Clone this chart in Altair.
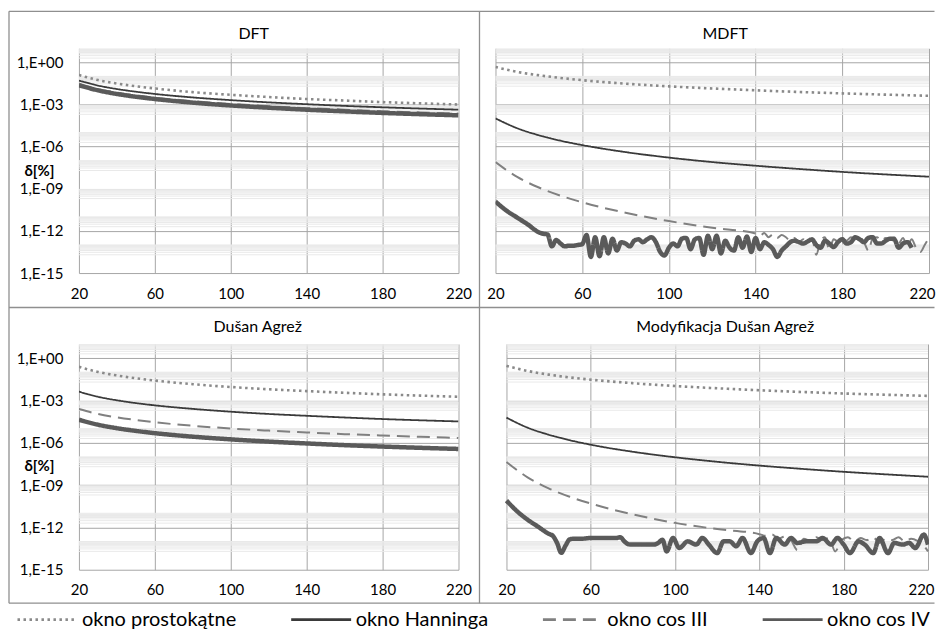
import altair as alt
import pandas as pd

FONT = "Lato"
SERIES = ["okno prostokątne", "okno Hanninga", "okno cos III", "okno cos IV"]
COLORS = ["#8a8a8a", "#3a3a3a", "#808080", "#5a5a5a"]
DASHES = [[2.5, 3.5], [1, 0], [13, 7], [1, 0]]
WIDTHS = {"okno prostokątne": 2.6, "okno Hanninga": 1.8, "okno cos III": 2.0, "okno cos IV": 4.5}

X_TICKS = [20, 60, 100, 140, 180, 220]
Y_TICKS = [1e-15, 1e-12, 1e-9, 1e-6, 1e-3, 1e0]

N_SMOOTH = [20, 30, 40, 50, 60, 80, 100, 120, 140, 160, 180, 200, 220]

# values are log10(delta [%])
DFT_RECT = [-0.90, -1.26, -1.51, -1.70, -1.86, -2.12, -2.31, -2.47, -2.61, -2.72, -2.83, -2.92, -3.00]
DFT_HANN = [-1.30, -1.65, -1.90, -2.09, -2.25, -2.50, -2.69, -2.85, -2.98, -3.10, -3.20, -3.29, -3.37]
DFT_COS3 = [-1.54, -1.90, -2.15, -2.35, -2.51, -2.76, -2.96, -3.12, -3.26, -3.37, -3.48, -3.57, -3.65]
DFT_COS4 = [-1.63, -1.99, -2.25, -2.45, -2.61, -2.87, -3.07, -3.23, -3.37, -3.49, -3.60, -3.69, -3.77]

MDFT_RECT = [-0.33, -0.68, -0.92, -1.11, -1.27, -1.52, -1.71, -1.86, -1.99, -2.11, -2.21, -2.30, -2.38]
MDFT_HANN = [-3.99, -4.69, -5.19, -5.58, -5.89, -6.39, -6.78, -7.10, -7.36, -7.59, -7.80, -7.98, -8.14]
MDFT_COS3 = [(20, -7.10), (30, -8.16), (40, -8.91), (50, -9.49), (60, -9.96), (80, -10.71),
             (100, -11.30), (120, -11.78), (140, -12.18), (142, -12.35), (144, -12.15), (146, -12.45),
             (148, -12.25), (150, -12.50), (152, -12.30), (154, -12.45), (156, -12.70), (158, -12.50),
             (160, -12.80), (162, -12.60), (164, -12.90), (166, -12.55), (168, -13.70), (170, -12.70),
             (172, -12.45), (174, -13.30), (176, -12.60), (178, -12.75), (180, -12.50), (182, -12.70),
             (184, -12.45), (186, -12.60), (188, -12.45), (190, -12.80), (192, -13.40), (194, -12.55),
             (196, -12.45), (198, -12.70), (200, -12.50), (202, -12.60), (204, -12.45), (206, -12.90),
             (208, -12.50), (210, -13.10), (212, -12.60), (214, -13.20), (216, -13.50), (218, -13.00),
             (220, -12.50)]
MDFT_COS4 = [(20, -9.91), (25, -10.55), (30, -11.05), (35, -11.55), (40, -12.10), (42, -12.20),
             (44, -12.25), (46, -13.10), (48, -12.65), (50, -12.90), (52, -13.10), (54, -13.05),
             (56, -13.05), (58, -13.00), (60, -12.95), (62, -12.30), (64, -13.85), (66, -12.45),
             (68, -13.80), (70, -12.45), (72, -13.60), (74, -12.55), (76, -13.40), (78, -12.80),
             (80, -12.90), (82, -13.10), (84, -12.70), (86, -12.60), (88, -12.80), (90, -12.60),
             (92, -12.45), (94, -12.80), (96, -13.50), (98, -13.75), (100, -13.20), (102, -12.90),
             (104, -13.10), (106, -12.55), (108, -12.50), (110, -13.30), (112, -12.60), (114, -12.50),
             (116, -13.70), (118, -12.35), (120, -13.30), (122, -12.35), (124, -13.60), (126, -12.70),
             (128, -13.20), (130, -13.40), (132, -12.45), (134, -13.20), (136, -12.40), (138, -13.50),
             (140, -12.50), (142, -13.30), (144, -12.80), (146, -13.00), (148, -13.30), (150, -13.85),
             (152, -13.40), (154, -13.10), (156, -12.80), (158, -12.70), (160, -12.80), (162, -12.90),
             (164, -12.75), (166, -12.60), (168, -13.00), (170, -13.20), (172, -12.70), (174, -12.90),
             (176, -13.15), (178, -12.80), (180, -12.60), (182, -12.90), (184, -12.80), (186, -12.45),
             (188, -12.60), (190, -12.80), (192, -12.50), (194, -12.45), (196, -12.90), (198, -12.90),
             (200, -12.70), (202, -12.55), (204, -12.60), (206, -13.20), (208, -12.90), (210, -12.80),
             (212, -13.20)]

DA_RECT = [-0.62, -0.98, -1.23, -1.43, -1.59, -1.85, -2.05, -2.21, -2.34, -2.46, -2.57, -2.66, -2.74]
DA_HANN = [-2.38, -2.74, -2.99, -3.19, -3.35, -3.60, -3.80, -3.96, -4.09, -4.21, -4.32, -4.41, -4.49]
DA_COS3 = [-3.61, -3.96, -4.20, -4.39, -4.55, -4.80, -4.99, -5.14, -5.27, -5.39, -5.49, -5.58, -5.66]
DA_COS4 = [-4.37, -4.72, -4.97, -5.16, -5.32, -5.57, -5.76, -5.92, -6.05, -6.17, -6.27, -6.36, -6.44]

MDA_RECT = [-0.55, -0.91, -1.17, -1.37, -1.53, -1.78, -1.98, -2.14, -2.28, -2.40, -2.51, -2.60, -2.68]
MDA_HANN = [-4.22, -4.93, -5.43, -5.82, -6.14, -6.64, -7.03, -7.35, -7.62, -7.85, -8.06, -8.24, -8.41]
MDA_COS3 = [(20, -7.37), (30, -8.45), (40, -9.23), (50, -9.83), (60, -10.31), (80, -11.08),
            (100, -11.68), (120, -12.12), (140, -12.48), (143, -12.60), (146, -12.50), (149, -12.80),
            (152, -12.65), (155, -12.90), (158, -13.60), (161, -12.80), (164, -12.95), (167, -12.70),
            (170, -12.90), (173, -12.75), (176, -13.70), (179, -12.90), (182, -12.70), (185, -13.00),
            (188, -12.75), (191, -12.90), (194, -12.70), (197, -13.10), (200, -12.80), (203, -12.90),
            (206, -12.70), (209, -13.00), (212, -12.80), (215, -12.95), (218, -13.30), (220, -13.70)]
MDA_COS4 = [(20, -10.10), (25, -10.85), (30, -11.45), (35, -11.95), (40, -12.45), (42, -12.60),
            (44, -13.10), (46, -13.80), (48, -13.30), (50, -12.85), (52, -12.80), (56, -12.80),
            (60, -12.75), (66, -12.75), (72, -12.75), (74, -12.70), (76, -13.00), (78, -13.20),
            (84, -13.22), (90, -13.22), (92, -13.10), (94, -12.87), (96, -13.70), (99, -12.75),
            (102, -13.46), (106, -12.99), (110, -13.22), (113, -12.75), (116, -13.22), (120, -13.82),
            (123, -12.99), (126, -12.99), (129, -13.34), (132, -12.75), (136, -13.82), (139, -12.99),
            (142, -12.75), (145, -13.82), (148, -12.75), (152, -13.22), (155, -12.75), (158, -13.10),
            (162, -12.99), (167, -12.99), (170, -12.75), (174, -13.22), (177, -12.75), (180, -13.22),
            (183, -13.82), (187, -12.99), (190, -13.22), (194, -13.82), (197, -12.75), (201, -13.82),
            (204, -13.10), (208, -13.22), (211, -13.10), (214, -13.46), (218, -12.51), (220, -13.22)]

rows = []


def add(panel, series, ns, logs):
    for n, lv in zip(ns, logs):
        rows.append({"panel": panel, "series": series, "N": n, "delta": 10.0 ** lv,
                     "w": WIDTHS[series]})


def add_pairs(panel, series, pairs):
    add(panel, series, [p[0] for p in pairs], [p[1] for p in pairs])


add("DFT", SERIES[0], N_SMOOTH, DFT_RECT)
add("DFT", SERIES[1], N_SMOOTH, DFT_HANN)
add("DFT", SERIES[2], N_SMOOTH, DFT_COS3)
add("DFT", SERIES[3], N_SMOOTH, DFT_COS4)
add("MDFT", SERIES[0], N_SMOOTH, MDFT_RECT)
add("MDFT", SERIES[1], N_SMOOTH, MDFT_HANN)
add_pairs("MDFT", SERIES[2], MDFT_COS3)
add_pairs("MDFT", SERIES[3], MDFT_COS4)
add("DA", SERIES[0], N_SMOOTH, DA_RECT)
add("DA", SERIES[1], N_SMOOTH, DA_HANN)
add("DA", SERIES[2], N_SMOOTH, DA_COS3)
add("DA", SERIES[3], N_SMOOTH, DA_COS4)
add("MDA", SERIES[0], N_SMOOTH, MDA_RECT)
add("MDA", SERIES[1], N_SMOOTH, MDA_HANN)
add_pairs("MDA", SERIES[2], MDA_COS3)
add_pairs("MDA", SERIES[3], MDA_COS4)
df = pd.DataFrame(rows)

# light minor gridlines: bands of 2..9 x 10^(k-1) just below every other decade
BAND_DECADES = [1, -1, -3, -5, -7, -9, -11, -13]
MINOR = [m * 10.0 ** (k - 1) for k in BAND_DECADES for m in range(2, 10)]
MINOR += [10.0 ** k for k in [-1, -5, -7, -11, -13]]
minor_df = pd.DataFrame({"v": MINOR})

MAJOR_C = "#a6a6a6"
MINOR_C = "#e9e9e9"
FRAME_C = "#8f8f8f"

LEG = alt.Legend(title=None, orient="none", legendX=-63, legendY=561, direction="horizontal",
                 symbolType="stroke", symbolSize=3600, symbolStrokeWidth=2.8, clipHeight=22,
                 labelFont=FONT, labelFontSize=20, labelColor="#000", labelOffset=3,
                 columnPadding=53, padding=0, columns=4)

LABEL_EXPR = "'1,E' + (datum.value >= 1 ? '+00' : '-' + format(round(-log(datum.value)/LN10), '02d'))"


def panel(key, title, width, height, left, x_range=None, title_x=0, title_y=-14, frame=False):
    if x_range is None:
        xs = alt.Scale(domain=[20, 220], nice=False, zero=False)
    else:
        xs = alt.Scale(domain=[20, 220], nice=False, zero=False, range=x_range)
    ys = alt.Scale(type="log", domain=[1e-15, 10], nice=False)
    if left:
        xaxis = alt.Axis(values=X_TICKS, grid=True, title=None, labelPadding=13, labelFlush=False)
        yaxis = alt.Axis(values=Y_TICKS, grid=True, labelExpr=LABEL_EXPR, labelPadding=16,
                         title="δ[%]", titleAngle=0, titleX=-40, titleY=122, titleAlign="center",
                         titleBaseline="middle", titleFont=FONT, titleFontSize=15,
                         titleFontWeight="bold", titleColor="#000")
    else:
        # the last label is kept inside the page
        xaxis = alt.Axis(values=X_TICKS, grid=True, title=None, labelPadding=13, labelFlush=False,
                         labelAlign=alt.ExprRef(expr="datum.value === 220 ? 'right' : 'center'"),
                         labelOffset=alt.ExprRef(expr="datum.value === 220 ? 6 : 0"))
        yaxis = alt.Axis(values=Y_TICKS, grid=True, labels=False, title=None)

    minor = alt.Chart(minor_df).mark_rule(color=MINOR_C, strokeWidth=1).encode(
        x=alt.X(datum=20, type="quantitative", scale=xs, axis=xaxis),
        x2=alt.X2(datum=220),
        y=alt.Y("v:Q", scale=ys, axis=yaxis),
    )
    lines = alt.Chart(df[df.panel == key]).mark_line(interpolate="monotone", clip=True).encode(
        x=alt.X("N:Q", scale=xs, axis=xaxis),
        y=alt.Y("delta:Q", scale=ys, axis=yaxis),
        color=alt.Color("series:N", scale=alt.Scale(domain=SERIES, range=COLORS), legend=LEG),
        strokeDash=alt.StrokeDash("series:N", scale=alt.Scale(domain=SERIES, range=DASHES), legend=LEG),
        strokeWidth=alt.StrokeWidth("w:Q", scale=None, legend=None),
    )
    one = pd.DataFrame({"k": [0]})
    ttl = alt.Chart(one).mark_text(font=FONT, fontSize=16, color="#000", align="center",
                                   baseline="middle").encode(
        x=alt.value(title_x), y=alt.value(title_y), text=alt.value(title))
    layers = [minor, lines, ttl]
    if frame:
        def seg(x1, x2, y1, y2):
            return alt.Chart(one).mark_rule(color=FRAME_C, strokeWidth=1.3).encode(
                x=alt.value(x1), x2=alt.value(x2), y=alt.value(y1), y2=alt.value(y2))

        bottom = 555.5
        right = 856.5
        layers += [seg(-70, right, -37, -37), seg(-70, right, bottom, bottom), seg(-70, -70, -37, bottom),
                   seg(401, 401, -37, bottom), seg(-70, right, 259.5, 259.5)]
    return alt.layer(*layers).properties(width=width, height=height)


tl = panel("DFT", "DFT", 380, 225, True, title_x=175, title_y=-14, frame=True)
tr = panel("MDFT", "MDFT", 434, 225, False, title_x=230, title_y=-14)
bl = panel("DA", "Dušan Agrež", 380, 226, True, title_x=179, title_y=-17)
br = panel("MDA", "Modyfikacja Dušan Agrež", 434, 226, False, x_range=[11, 433], title_x=230, title_y=-17)

chart = alt.concat(tl, tr, bl, br, columns=2, spacing={"row": 71, "column": 37}, bounds="flush").resolve_scale(
    x="independent", y="independent", color="shared", strokeDash="shared"
).properties(
    padding={"left": 0, "top": 2, "right": 0, "bottom": 0}
).configure_view(stroke=None).configure_axis(
    labelFont=FONT, labelFontSize=15, labelColor="#000", gridColor=MAJOR_C, gridWidth=1,
    domain=False, ticks=False, tickSize=0
)

chart.save("out.html", embed_options={"renderer": "svg", "actions": False})
